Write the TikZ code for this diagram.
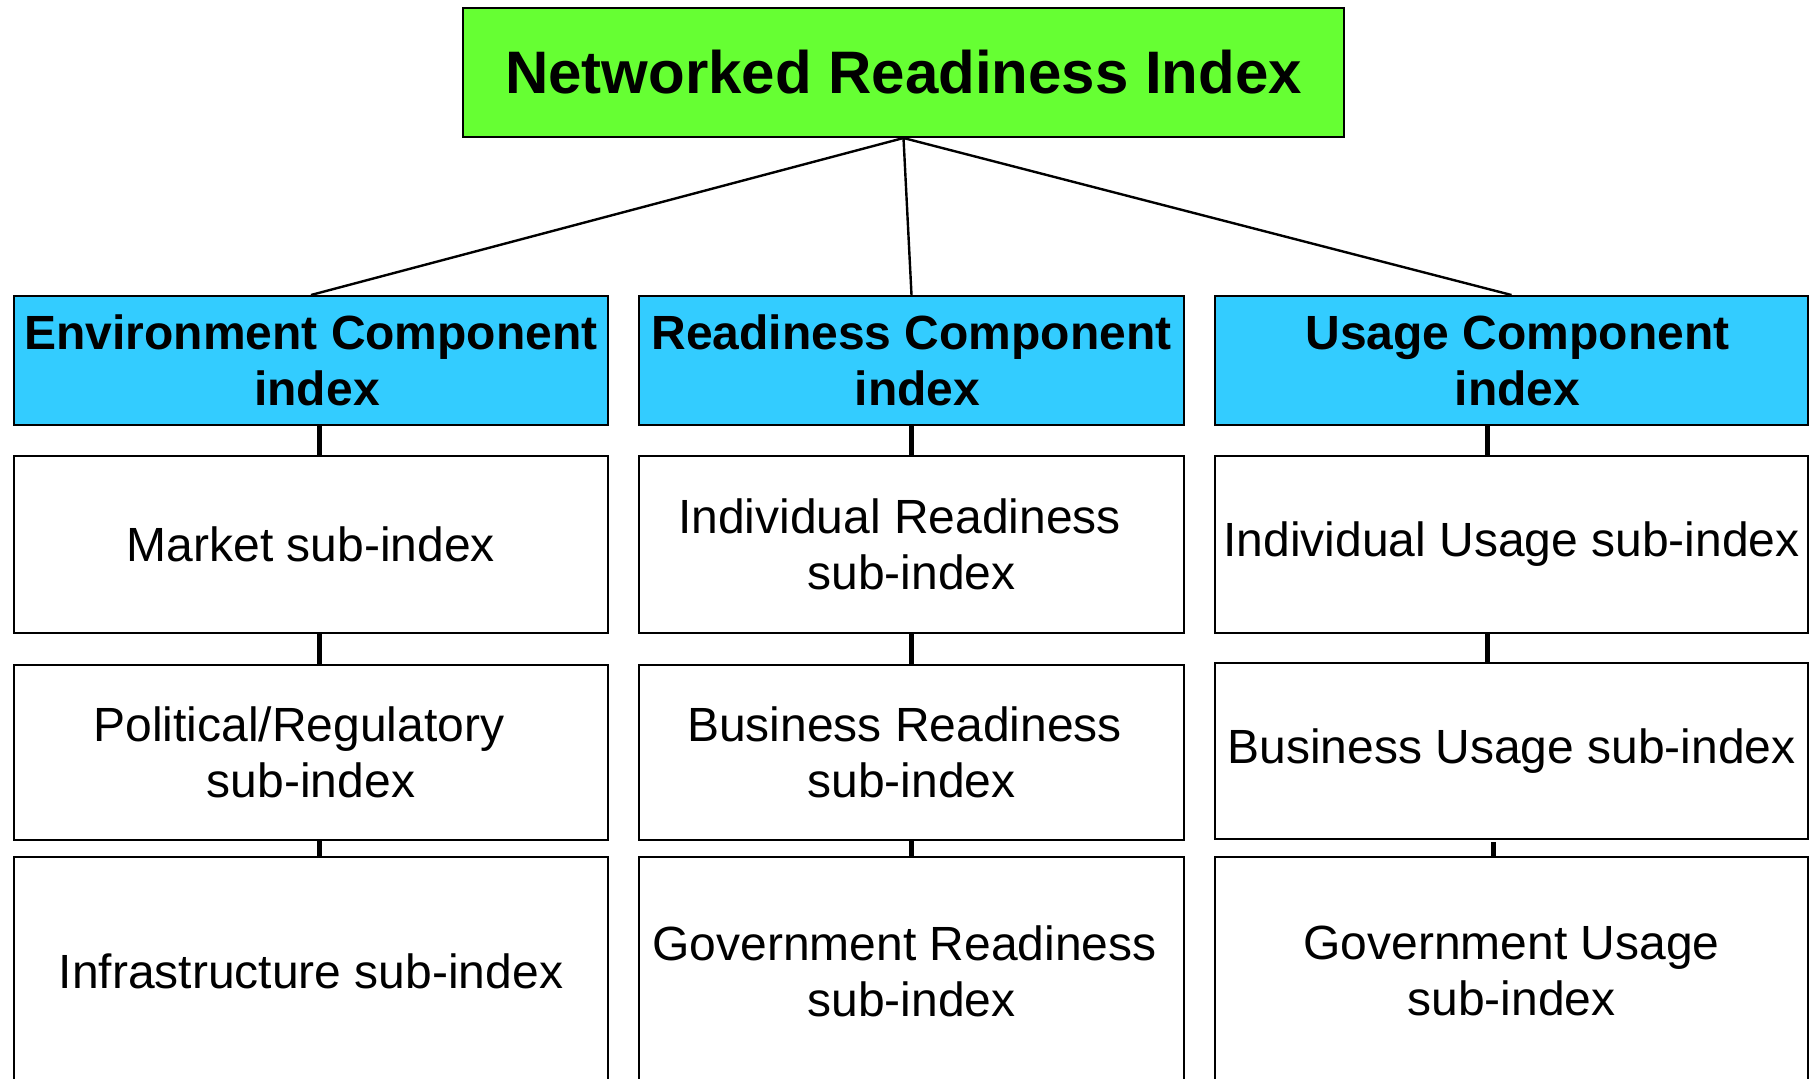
\documentclass[tikz,border=0pt]{standalone}
\usepackage{fontspec}
\setmainfont{Liberation Sans}
\definecolor{titlegreen}{HTML}{66FF33}
\definecolor{headblue}{HTML}{33CCFF}
\tikzset{
  titlebox/.style={draw, line width=1pt, fill=titlegreen, inner sep=0pt, align=center,
    font=\bfseries\fontsize{30}{34}\selectfont, minimum width=440.5pt, minimum height=64.5pt},
  headbox/.style={draw, line width=1pt, fill=headblue, inner sep=0pt, align=center,
    font=\bfseries\fontsize{24}{28}\selectfont, minimum height=64.5pt},
  subbox/.style={draw, line width=1pt, fill=white, inner sep=0pt, align=center,
    font=\fontsize{24}{28}\selectfont},
  link/.style={line width=2.5pt},
  spoke/.style={line width=1.2pt}
}
\begin{document}
\begin{tikzpicture}[x=0.5pt,y=-0.5pt]
\useasboundingbox (0,0) rectangle (1810,1078);
\clip (0,0) rectangle (1810,1078);
% title
\node[titlebox] (nri) at (903.5,72.5) {Networked Readiness Index};
% headers
\node[headbox, minimum width=297pt] (envh) at (311,360.5) {Environment Component\\\hspace*{6pt}index};
\node[headbox, minimum width=272.5pt] (redh) at (911.5,360.5) {Readiness Component\\\hspace*{6pt}index};
\node[headbox, minimum width=296.5pt] (useh) at (1511.5,360.5) {\hspace*{6pt}Usage Component\\\hspace*{6pt}index};
% row 1
\node[subbox, minimum width=297pt, minimum height=88.5pt] (env1) at (311,544.5) {Market sub-index};
\node[subbox, minimum width=272.5pt, minimum height=88.5pt] (red1) at (911.5,544.5) {Individual Readiness\hspace*{12pt}\\sub-index};
\node[subbox, minimum width=296.5pt, minimum height=88.5pt] (use1) at (1511.5,544.5) {Individual Usage sub-index};
% row 2
\node[subbox, minimum width=297pt, minimum height=87.5pt] (env2) at (311,752.5) {Political/Regulatory\hspace*{12pt}\\sub-index};
\node[subbox, minimum width=272.5pt, minimum height=87.5pt] (red2) at (911.5,752.5) {Business Readiness\hspace*{7pt}\\sub-index};
\node[subbox, minimum width=296.5pt, minimum height=88pt] (use2) at (1511.5,751) {Business Usage sub-index};
% row 3
\node[subbox, minimum width=297pt, minimum height=114pt] (env3) at (311,971) {Infrastructure sub-index};
\node[subbox, minimum width=272.5pt, minimum height=114pt] (red3) at (911.5,971) {Government Readiness\hspace*{7pt}\\sub-index};
\node[subbox, minimum width=296.5pt, minimum height=114pt] (use3) at (1511.5,971) {Government Usage\\sub-index};
% spokes
\draw[spoke] (nri.south) -- (envh.north);
\draw[spoke] (nri.south) -- (redh.north);
\draw[spoke] (nri.south) -- (useh.north);
% vertical links
\draw[link] ([xshift=4pt]envh.south) -- ([xshift=4pt]env1.north);
\draw[link] ([xshift=4pt]env1.south) -- ([xshift=4pt]env2.north);
\draw[link] ([xshift=4pt]env2.south) -- ([xshift=4pt]env3.north);
\draw[link] (redh.south) -- (red1.north);
\draw[link] (red1.south) -- (red2.north);
\draw[link] (red2.south) -- (red3.north);
\draw[link] ([xshift=-12.25pt]useh.south) -- ([xshift=-12.25pt]use1.north);
\draw[link] ([xshift=-12.25pt]use1.south) -- ([xshift=-12.25pt]use2.north);
\draw[link] ([xshift=-9.25pt,yshift=-1pt]use2.south) -- ([xshift=-9.25pt]use3.north);
\end{tikzpicture}
\end{document}
